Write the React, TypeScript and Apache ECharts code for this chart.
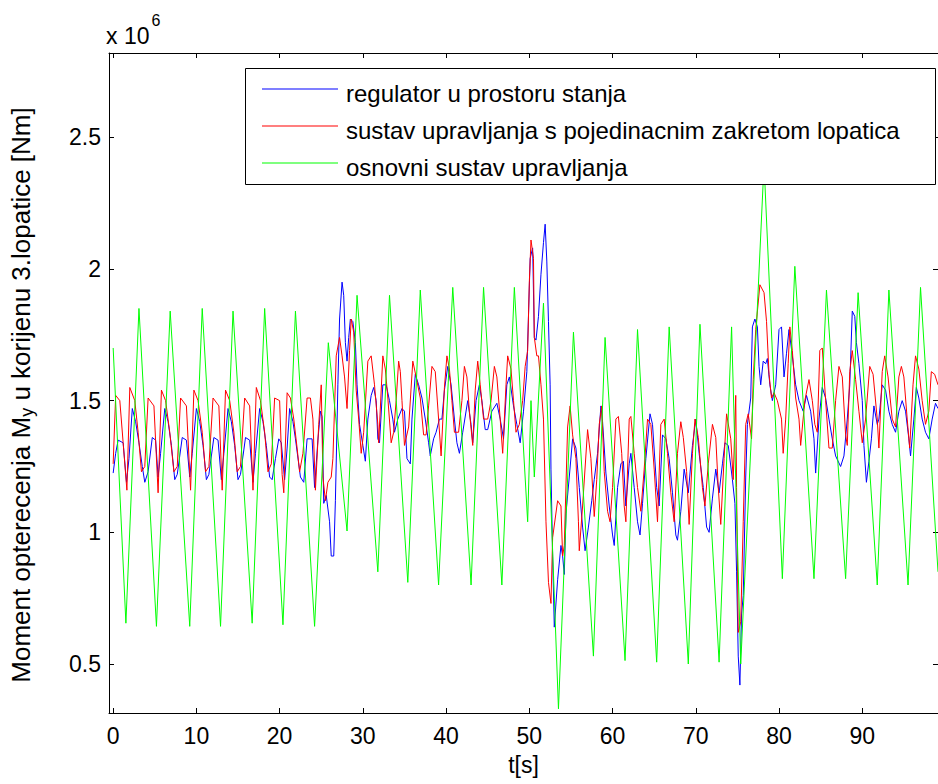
import React, { useEffect, useRef } from "react";
import * as echarts from "echarts";

// values in units of 10^6 Nm
const blueT = [0.0,0.3,0.6,1.2,1.6,1.9,2.3,2.7,3.1,3.5,3.8,4.2,4.7,5.1,5.4,5.7,6.2,6.6,7.0,7.4,7.7,8.3,8.8,9.2,9.5,10.0,10.4,10.8,11.2,11.5,12.1,12.6,13.0,13.3,13.8,14.2,14.6,15.0,15.3,15.9,16.4,16.8,17.1,17.6,18.0,18.4,18.8,19.1,19.5,19.9,20.2,20.6,20.9,21.2,21.6,21.9,22.5,22.9,23.3,23.9,24.2,24.6,24.9,25.1,25.3,25.6,26.0,26.2,26.5,26.7,27.0,27.2,27.5,27.7,27.9,28.1,28.3,28.5,28.8,29.1,29.3,29.6,30.0,30.3,30.6,31.0,31.3,31.6,31.8,32.0,32.4,32.8,33.2,33.6,33.8,34.2,34.7,35.0,35.3,35.7,35.9,36.3,36.7,37.1,37.5,37.9,38.1,38.5,38.8,39.2,39.5,39.8,40.2,40.6,41.0,41.3,41.6,42.0,42.6,43.0,43.2,43.6,44.0,44.3,44.7,45.0,45.5,46.1,46.5,46.9,47.3,47.6,48.1,48.5,48.9,49.3,49.7,50.1,50.4,50.6,50.8,51.1,51.4,51.7,51.9,52.1,52.3,52.5,52.6,52.8,53.0,53.4,53.8,54.0,54.2,54.4,54.8,55.2,55.6,56.0,56.4,56.7,57.1,57.5,57.8,58.2,58.6,58.8,59.2,59.6,60.0,60.2,60.6,61.0,61.3,61.6,62.0,62.2,62.6,63.0,63.3,63.6,64.0,64.5,64.8,65.3,65.6,66.0,66.4,66.8,67.2,67.6,67.8,68.2,68.6,69.1,69.6,70.0,70.4,70.9,71.3,71.6,72.0,72.4,72.8,73.2,73.5,73.9,74.4,74.7,74.9,75.1,75.3,75.5,75.7,76.0,76.2,76.6,76.8,77.1,77.4,77.6,77.8,78.1,78.4,78.6,78.9,79.2,79.6,80.0,80.3,80.6,80.9,81.2,81.6,82.0,82.4,82.9,83.3,83.8,84.2,84.4,84.8,85.2,85.6,86.0,86.4,86.8,87.4,87.8,88.2,88.5,88.8,89.1,89.3,89.6,90.0,90.2,90.5,90.8,91.1,91.4,91.8,92.0,92.4,92.8,93.2,93.6,94.0,94.4,94.8,95.2,95.6,95.8,96.2,96.5,96.8,97.2,97.6,98.0,98.4,98.8,99.1];
const blueV = [1.225,1.30,1.35,1.34,1.19,1.28,1.47,1.42,1.34,1.25,1.19,1.23,1.36,1.35,1.21,1.30,1.47,1.42,1.33,1.20,1.22,1.36,1.35,1.21,1.30,1.47,1.42,1.33,1.20,1.22,1.36,1.35,1.20,1.30,1.47,1.42,1.33,1.20,1.22,1.36,1.35,1.19,1.30,1.47,1.42,1.33,1.21,1.20,1.28,1.355,1.34,1.20,1.32,1.47,1.42,1.355,1.21,1.19,1.355,1.355,1.17,1.35,1.46,1.44,1.11,1.14,1.04,0.91,0.91,1.12,1.56,1.81,1.95,1.90,1.72,1.65,1.74,1.81,1.80,1.72,1.56,1.41,1.33,1.27,1.43,1.52,1.55,1.50,1.355,1.34,1.56,1.56,1.50,1.43,1.38,1.43,1.47,1.46,1.28,1.26,1.43,1.60,1.56,1.51,1.43,1.34,1.29,1.355,1.38,1.43,1.43,1.54,1.63,1.56,1.43,1.34,1.30,1.38,1.50,1.41,1.34,1.50,1.56,1.50,1.39,1.39,1.46,1.49,1.43,1.355,1.56,1.59,1.48,1.41,1.34,1.46,1.61,2.04,2.08,1.74,1.73,1.82,1.98,2.10,2.17,2.03,1.80,1.56,1.24,0.91,0.64,0.82,0.95,0.91,0.84,1.07,1.21,1.355,1.32,1.17,1.02,0.93,1.02,1.12,1.20,1.30,1.48,1.42,1.225,1.10,0.99,0.95,1.17,1.26,1.27,1.10,1.26,1.30,1.17,1.04,0.99,1.11,1.28,1.45,1.41,1.17,1.10,1.37,1.355,1.28,1.15,0.99,0.97,1.08,1.24,1.15,1.33,1.43,1.30,1.17,1.02,1.00,1.13,1.24,1.15,1.26,1.34,1.33,1.20,1.11,0.85,0.53,0.42,0.69,0.76,1.21,1.41,1.51,1.78,1.81,1.78,1.63,1.56,1.65,1.64,1.66,1.56,1.50,1.56,1.77,1.78,1.59,1.68,1.77,1.67,1.56,1.50,1.46,1.52,1.46,1.355,1.225,1.43,1.55,1.51,1.43,1.355,1.29,1.25,1.29,1.43,1.56,1.84,1.82,1.72,1.64,1.50,1.33,1.19,1.27,1.355,1.48,1.41,1.43,1.56,1.54,1.46,1.41,1.38,1.46,1.50,1.46,1.355,1.29,1.43,1.55,1.51,1.43,1.38,1.355,1.43,1.49,1.47];

const redT = [0.0,0.3,0.8,1.2,1.65,2.0,2.6,3.0,3.4,3.8,4.2,4.9,5.4,5.8,6.3,6.8,7.3,7.7,8.1,8.8,9.3,9.7,10.2,10.7,11.1,11.5,12.0,12.7,13.1,13.5,14.0,14.5,14.9,15.3,15.8,16.4,16.8,17.2,17.7,18.2,18.6,19.0,19.4,20.0,20.3,20.5,20.9,21.3,21.7,22.1,22.4,22.8,23.3,23.7,24.0,24.3,24.7,25.0,25.2,25.5,25.8,26.2,26.4,26.8,27.2,27.5,27.8,28.1,28.4,28.6,28.9,29.2,29.5,29.8,30.1,30.6,31.0,31.4,31.8,31.9,32.4,32.7,33.0,33.4,33.7,34.0,34.3,34.5,34.7,35.0,35.5,36.0,36.4,36.9,37.3,37.6,37.9,38.3,38.7,39.1,39.4,39.8,40.1,40.4,40.7,41.0,41.5,41.9,42.2,42.5,42.8,43.2,43.5,43.8,44.1,44.5,45.0,45.4,45.8,46.1,46.5,46.8,47.2,47.4,47.8,48.1,48.4,48.8,49.2,49.5,49.8,50.0,50.2,50.5,50.6,50.9,51.1,51.4,51.7,52.0,52.3,52.6,52.8,53.4,53.8,54.0,54.2,54.6,54.9,55.2,55.6,55.9,56.0,56.4,57.0,57.4,57.8,58.1,58.4,58.7,59.0,59.4,59.7,60.0,60.4,60.7,61.1,61.4,61.6,62.0,62.2,62.6,63.0,63.4,63.8,64.2,64.6,65.0,65.4,65.8,66.2,66.6,67.0,67.4,67.8,68.2,68.5,68.9,69.2,69.6,69.9,70.3,70.8,71.1,71.5,72.0,72.4,72.7,73.0,73.4,73.7,74.2,74.5,74.8,74.9,75.1,75.4,75.7,76.0,76.3,76.7,76.9,77.2,77.7,78.2,78.5,78.8,79.1,79.4,79.8,80.3,80.5,80.8,81.1,81.3,81.6,82.0,82.4,82.6,83.1,83.6,84.0,84.3,84.6,84.9,85.2,85.6,86.0,86.4,86.8,87.2,87.6,88.0,88.2,88.5,88.8,89.2,89.6,90.0,90.4,90.9,91.3,91.8,92.0,92.4,92.7,93.1,93.6,94.0,94.4,94.7,95.0,95.4,95.7,96.1,96.4,96.8,97.2,97.6,98.0,98.3,98.7,99.1];
const redV = [1.26,1.52,1.50,1.34,1.16,1.55,1.50,1.38,1.23,1.25,1.51,1.48,1.15,1.54,1.50,1.38,1.23,1.25,1.51,1.48,1.16,1.54,1.50,1.38,1.23,1.25,1.51,1.48,1.16,1.54,1.50,1.38,1.23,1.25,1.51,1.48,1.16,1.55,1.50,1.38,1.23,1.26,1.51,1.50,1.22,1.15,1.53,1.51,1.43,1.32,1.23,1.30,1.51,1.51,1.43,1.16,1.41,1.56,1.21,1.12,1.19,1.21,1.28,1.67,1.74,1.67,1.59,1.47,1.69,1.81,1.76,1.54,1.43,1.30,1.38,1.65,1.67,1.56,1.41,1.34,1.67,1.62,1.51,1.34,1.38,1.50,1.65,1.61,1.50,1.33,1.40,1.65,1.59,1.51,1.37,1.37,1.48,1.63,1.61,1.43,1.29,1.55,1.67,1.62,1.50,1.38,1.38,1.50,1.63,1.59,1.46,1.33,1.54,1.65,1.56,1.43,1.43,1.50,1.63,1.59,1.43,1.30,1.56,1.67,1.62,1.50,1.38,1.41,1.50,1.63,1.69,1.95,2.11,2.04,1.74,1.67,1.67,1.56,1.43,1.04,0.81,0.73,0.98,1.12,1.10,0.91,0.95,1.40,1.48,1.37,1.28,1.04,0.93,1.10,1.39,1.28,1.06,1.20,1.41,1.48,1.23,1.08,1.04,1.17,1.43,1.44,1.30,1.10,1.04,1.43,1.44,1.30,1.17,1.08,1.24,1.43,1.41,1.24,1.04,1.41,1.43,1.30,1.15,1.04,1.30,1.42,1.36,1.23,1.03,1.30,1.43,1.36,1.17,1.10,1.26,1.41,1.36,1.17,1.03,1.28,1.45,1.355,1.20,1.52,1.17,0.62,0.66,1.04,1.41,1.45,1.355,1.58,1.77,1.94,1.91,1.80,1.60,1.51,1.53,1.50,1.43,1.30,1.43,1.64,1.78,1.69,1.51,1.43,1.33,1.50,1.58,1.50,1.41,1.38,1.69,1.70,1.50,1.32,1.32,1.50,1.63,1.59,1.37,1.33,1.61,1.69,1.58,1.46,1.34,1.43,1.63,1.60,1.43,1.32,1.61,1.67,1.59,1.43,1.40,1.59,1.63,1.59,1.43,1.32,1.56,1.67,1.62,1.50,1.41,1.46,1.61,1.60,1.56];

const greenT = [0.0,1.53,3.1,5.2,6.85,9.2,10.7,12.9,14.4,16.7,18.2,20.4,21.9,24.2,25.85,28.1,29.3,31.8,33.2,35.4,36.9,39.1,40.8,43.0,44.5,46.7,48.2,49.8,50.2,50.6,51.7,53.5,55.3,57.7,59.1,61.5,63.0,65.3,66.8,69.1,70.5,72.8,74.3,75.4,78.2,80.4,81.9,84.2,85.7,88.0,89.5,91.8,93.2,95.5,97.0,99.1];
const greenV = [1.70,0.655,1.85,0.643,1.84,0.643,1.85,0.643,1.84,0.655,1.85,0.649,1.84,0.643,1.72,1.005,1.90,0.85,1.90,0.81,1.92,0.80,1.93,0.80,1.93,0.80,1.93,1.04,1.50,1.21,1.87,0.33,1.76,0.53,1.74,0.513,1.77,0.507,1.78,0.50,1.79,0.507,1.78,0.50,2.40,0.824,2.01,0.824,1.92,0.824,1.91,0.80,1.92,0.80,1.93,0.85];

const seriesNames = [
  "regulator u prostoru stanja",
  "sustav upravljanja s pojedinacnim zakretom lopatica",
  "osnovni sustav upravljanja",
];
const seriesColors = ["#0000ff", "#ff0000", "#00ff00"];
const xTickStep = 10;
const yTickStep = 0.5;

const FONT = "'Liberation Sans', Arial, Helvetica, sans-serif";

function zip(t: number[], v: number[]) {
  return t.map((x, i) => [x, v[i]]);
}

export default function App() {
  const ref = useRef<HTMLDivElement>(null);
  useEffect(() => {
    if (!ref.current) return;
    const chart = echarts.init(ref.current, undefined, { renderer: "svg" });
    const gl = 107, gr = 939, gt = 53, gb = 713;
    const axisCommon = {
      type: "value" as const,
      axisLine: { show: true, onZero: false, lineStyle: { color: "#000", width: 1 } },
      axisTick: { show: true, inside: true, length: 5, lineStyle: { color: "#000" } },
      splitLine: { show: false },
    };
    const xfmt = (v: number) => (Math.abs(v / xTickStep - Math.round(v / xTickStep)) < 1e-6 ? String(Math.round(v)) : "");
    const yfmt = (v: number) =>
      Math.abs(v / yTickStep - Math.round(v / yTickStep)) < 1e-6 ? String(parseFloat(v.toFixed(1))) : "";
    chart.setOption({
      animation: false,
      backgroundColor: "#fff",
      title: {
        text: "x 10{sup|6}",
        left: 106,
        top: 12,
        padding: 0,
        textStyle: {
          fontFamily: FONT,
          fontSize: 23,
          lineHeight: 48,
          fontWeight: "normal",
          color: "#000",
          rich: { sup: { fontFamily: FONT, fontSize: 16, lineHeight: 16, verticalAlign: "top", color: "#000", padding: [0, 0, 0, 2] } },
        },
      },
      grid: { left: gl, top: gt, width: gr - gl, height: gb - gt, containLabel: false },
      xAxis: [
        {
          ...axisCommon,
          position: "bottom",
          min: -0.5,
          max: 99.1,
          splitNumber: 10,
          name: "t[s]",
          nameLocation: "middle",
          nameGap: 40,
          nameTextStyle: { fontFamily: FONT, fontSize: 23, color: "#000" },
          axisLabel: { show: true, formatter: xfmt, fontFamily: FONT, fontSize: 23, color: "#000", margin: 11, showMinLabel: false, showMaxLabel: false },
        },
        {
          ...axisCommon,
          position: "top",
          min: -0.5,
          max: 99.1,
          splitNumber: 10,
          axisLabel: { show: false },
        },
      ],
      yAxis: [
        {
          ...axisCommon,
          position: "left",
          min: 0.314,
          max: 2.82,
          splitNumber: 5,
          name: "Moment opterecenja M{sub|y} u korijenu 3.lopatice [Nm]",
          nameLocation: "middle",
          nameRotate: 90,
          nameGap: 73,
          nameTextStyle: {
            fontFamily: FONT,
            fontSize: 26,
            color: "#000",
            padding: [0, 24, 0, 0],
            rich: { sub: { fontFamily: FONT, fontSize: 18, color: "#000", padding: [12, 0, 0, 0] } },
          },
          axisLabel: { show: true, formatter: yfmt, fontFamily: FONT, fontSize: 23, color: "#000", margin: 8, showMinLabel: false, showMaxLabel: false },
        },
        {
          ...axisCommon,
          position: "right",
          min: 0.314,
          max: 2.82,
          splitNumber: 5,
          axisLabel: { show: false },
        },
      ],
      legend: {
        orient: "vertical",
        left: 257,
        top: 76,
        itemWidth: 79,
        itemHeight: 9,
        itemGap: 13,
        icon: "path://M0,0H76V1H0Z M0,8.99H0.01V9H0Z M78.99,8.99H79V9H78.99Z",
        selectedMode: false,
        z: 5,
        data: seriesNames,
        textStyle: { fontFamily: FONT, fontSize: 24, lineHeight: 24, color: "#000" },
      },
      graphic: [
        {
          type: "rect",
          z: 4,
          shape: { x: 245.5, y: 68.5, width: 690, height: 116 },
          style: { fill: "#fff", stroke: "#000", lineWidth: 1 },
        },
      ],
      series: [
        { name: seriesNames[0], data: zip(blueT, blueV) },
        { name: seriesNames[1], data: zip(redT, redV) },
        { name: seriesNames[2], data: zip(greenT, greenV) },
      ].map((s, i) => ({
        ...s,
        type: "line",
        xAxisIndex: 0,
        yAxisIndex: 0,
        symbol: "none",
        showSymbol: false,
        clip: true,
        color: seriesColors[i],
        lineStyle: { color: seriesColors[i], width: 1 },
        z: 2,
      })),
    });
    return () => chart.dispose();
  }, []);
  return <div ref={ref} style={{ position: "absolute", left: 0, top: 0, width: 938, height: 784 }} />;
}
